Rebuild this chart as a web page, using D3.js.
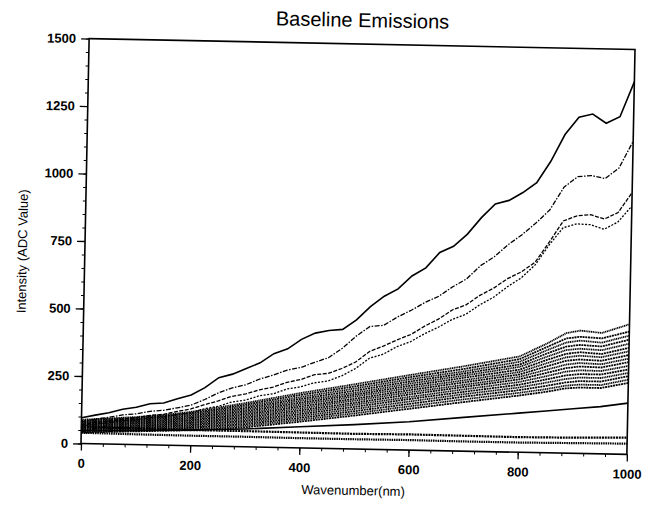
<!DOCTYPE html>
<html>
<head>
<meta charset="utf-8">
<script src="https://cdn.jsdelivr.net/npm/d3@7"></script>
<style>
  body { margin: 0; background: #fff; }
  svg { display: block; }
</style>
</head>
<body>
<div id="chart"></div>
<script>
// wavenumber grid for the four upper spectra
const upperX = [0, 25, 50, 75, 100, 125, 150, 175, 200, 225, 250, 275, 300, 325, 350, 375, 400, 425, 450, 475,
  500, 525, 550, 575, 600, 625, 650, 675, 700, 725, 750, 775, 800, 825, 850, 875, 900, 925, 950, 975, 1000];
const spectrum1 = [95, 106, 116, 130, 138, 152, 156, 173, 188, 216, 254, 268, 290, 312, 347, 366, 402, 426, 437, 442,
  478, 528, 568, 596, 645, 676, 734, 758, 804, 866, 918, 932, 962, 1000, 1080, 1180, 1245, 1258, 1225, 1250, 1380];
const spectrum2 = [80, 91, 99, 109, 114, 124, 129, 139, 150, 172, 198, 217, 230, 252, 268, 287, 298, 318, 336, 372,
  418, 455, 460, 492, 518, 548, 572, 608, 638, 688, 722, 768, 806, 850, 900, 985, 1025, 1030, 1020, 1060, 1160];
const spectrum3 = [70, 79, 84, 93, 99, 109, 114, 126, 136, 153, 168, 186, 196, 212, 223, 242, 253, 272, 278, 297,
  322, 362, 383, 407, 428, 460, 487, 522, 542, 578, 606, 642, 668, 705, 780, 860, 880, 885, 870, 895, 970];
const spectrum4 = [65, 73, 79, 87, 91, 101, 105, 115, 122, 138, 148, 165, 173, 190, 198, 217, 226, 242, 250, 270,
  298, 337, 353, 382, 402, 432, 457, 487, 507, 543, 572, 612, 646, 695, 770, 835, 850, 848, 832, 860, 920];

// dense band of spectra
const bandX = [0, 50, 100, 150, 200, 300, 400, 500, 600, 700, 800, 850, 885, 910, 950, 1000];
const bandSeries = [
  [88, 95, 102, 112, 125, 162, 203, 240, 278, 315, 355, 405, 445, 455, 448, 482],
  [84, 92, 99, 108, 120, 156, 196, 232, 270, 305, 345, 392, 425, 432, 428, 455],
  [80, 88, 95, 104, 116, 150, 188, 224, 262, 296, 335, 380, 410, 418, 412, 440],
  [77, 85, 92, 100, 111, 144, 181, 216, 254, 288, 325, 368, 395, 402, 398, 425],
  [74, 82, 88, 96, 106, 138, 174, 208, 246, 280, 316, 356, 382, 388, 384, 410],
  [70, 78, 85, 92, 102, 132, 167, 201, 238, 272, 306, 344, 368, 375, 370, 395],
  [67, 75, 81, 88, 97, 126, 160, 194, 230, 263, 297, 332, 355, 362, 358, 382],
  [64, 71, 78, 84, 93, 120, 153, 186, 222, 255, 288, 320, 342, 348, 345, 368],
  [61, 68, 74, 80, 88, 114, 146, 179, 214, 246, 279, 308, 328, 335, 332, 355],
  [58, 64, 70, 76, 84, 108, 139, 171, 206, 238, 270, 296, 315, 322, 320, 342],
  [55, 61, 67, 72, 79, 102, 132, 164, 197, 229, 260, 284, 302, 308, 307, 328],
  [52, 58, 63, 68, 75, 96, 125, 156, 189, 220, 250, 272, 288, 294, 294, 315],
  [49, 55, 60, 64, 70, 90, 118, 148, 180, 211, 240, 260, 275, 281, 281, 302],
  [46, 51, 56, 60, 66, 84, 111, 140, 171, 202, 230, 248, 262, 268, 268, 290],
  [43, 48, 52, 56, 61, 78, 104, 132, 162, 192, 220, 236, 250, 255, 255, 277],
  [40, 45, 49, 53, 57, 72, 97, 124, 153, 182, 210, 226, 240, 244, 244, 265]
];

// low spectra under the band
const lowX = [0, 50, 100, 150, 200, 300, 400, 500, 600, 700, 800, 850, 900, 950, 1000];
const lowLine = [48, 50, 52, 55, 58, 66, 78, 90, 105, 125, 145, 155, 165, 175, 190];
const floorX = [0, 100, 200, 300, 400, 500, 600, 700, 800, 900, 1000];
const floorA = [62, 60, 58, 58, 57, 56, 58, 57, 56, 58, 62];
const floorB = [40, 38, 37, 37, 36, 36, 37, 36, 36, 38, 40];

const xTicks = [0, 200, 400, 600, 800, 1000];
const yTicks = [0, 250, 500, 750, 1000, 1250, 1500];

const width = 654;
const height = 508;
const plot = { left: 85, top: 44, width: 546, height: 405 };
const cx = plot.left + plot.width / 2;
const cy = plot.top + plot.height / 2;

const svg = d3.select("#chart")
  .append("svg")
  .attr("width", width)
  .attr("height", height)
  .style("font-family", "'Liberation Sans', Arial, sans-serif");

// the scanned original sits slightly tilted
const g = svg.append("g")
  .attr("transform", `rotate(1.15, ${cx}, ${cy})`);

const x = d3.scaleLinear().domain([0, 1000]).range([plot.left, plot.left + plot.width]);
const y = d3.scaleLinear().domain([0, 1500]).range([plot.top + plot.height, plot.top]);

const line = d3.line().x(d => x(d[0])).y(d => y(d[1]));
const zip = (xs, ys) => xs.map((v, i) => [v, ys[i]]);

// band
g.append("g")
  .selectAll("path")
  .data(bandSeries)
  .join("path")
  .attr("d", d => line(zip(bandX, d)))
  .attr("fill", "none")
  .attr("stroke", "#000")
  .attr("stroke-width", 1.8)
  .attr("stroke-dasharray", (_, i) => i % 2 ? "2,0.7" : "1.2,0.6");

const others = [
  { xs: lowX, ys: lowLine, dash: null, w: 1.6 },
  { xs: floorX, ys: floorA, dash: "2,0.8", w: 2.2 },
  { xs: floorX, ys: floorB, dash: "1.5,0.8", w: 2.2 },
  { xs: upperX, ys: spectrum4, dash: "2,1.5", w: 1.3 },
  { xs: upperX, ys: spectrum3, dash: "4,1.5", w: 1.3 },
  { xs: upperX, ys: spectrum2, dash: "5,1.5,1.5,1.5", w: 1.3 },
  { xs: upperX, ys: spectrum1, dash: null, w: 1.6 }
];

g.append("g")
  .selectAll("path")
  .data(others)
  .join("path")
  .attr("d", d => line(zip(d.xs, d.ys)))
  .attr("fill", "none")
  .attr("stroke", "#000")
  .attr("stroke-width", d => d.w)
  .attr("stroke-dasharray", d => d.dash);

// frame
g.append("rect")
  .attr("x", plot.left)
  .attr("y", plot.top)
  .attr("width", plot.width)
  .attr("height", plot.height)
  .attr("fill", "none")
  .attr("stroke", "#000")
  .attr("stroke-width", 1.6);

// minor ticks
g.append("g")
  .attr("transform", `translate(${plot.left},0)`)
  .call(d3.axisLeft(y).tickValues(d3.range(0, 1501, 50)).tickSize(3).tickFormat(""))
  .call(a => a.select(".domain").remove());
g.append("g")
  .attr("transform", `translate(0,${plot.top + plot.height})`)
  .call(d3.axisBottom(x).tickValues(d3.range(0, 1001, 40)).tickSize(3).tickFormat(""))
  .call(a => a.select(".domain").remove());

// major ticks + labels
const gy = g.append("g")
  .attr("transform", `translate(${plot.left},0)`)
  .call(d3.axisLeft(y).tickValues(yTicks).tickSize(8).tickPadding(5).tickFormat(d3.format("d")))
  .call(a => a.select(".domain").remove());
const gx = g.append("g")
  .attr("transform", `translate(0,${plot.top + plot.height})`)
  .call(d3.axisBottom(x).tickValues(xTicks).tickSize(7).tickPadding(8).tickFormat(d3.format("d")))
  .call(a => a.select(".domain").remove());

[gx, gy].forEach(a => {
  a.selectAll("line").attr("stroke", "#000").attr("stroke-width", 1.3);
  a.selectAll("text")
    .attr("fill", "#000")
    .style("font-size", "13px")
    .style("font-weight", "bold")
    .style("font-family", "'Liberation Sans', Arial, sans-serif");
});

g.append("text")
  .attr("x", cx)
  .attr("y", 27)
  .attr("text-anchor", "middle")
  .style("font-size", "20px")
  .text("Baseline Emissions");

g.append("text")
  .attr("x", cx)
  .attr("y", 495)
  .attr("text-anchor", "middle")
  .style("font-size", "13px")
  .text("Wavenumber(nm)");

g.append("text")
  .attr("transform", `translate(27,258) rotate(-90)`)
  .attr("text-anchor", "middle")
  .style("font-size", "13px")
  .text("Intensity (ADC Value)");
</script>
</body>
</html>
